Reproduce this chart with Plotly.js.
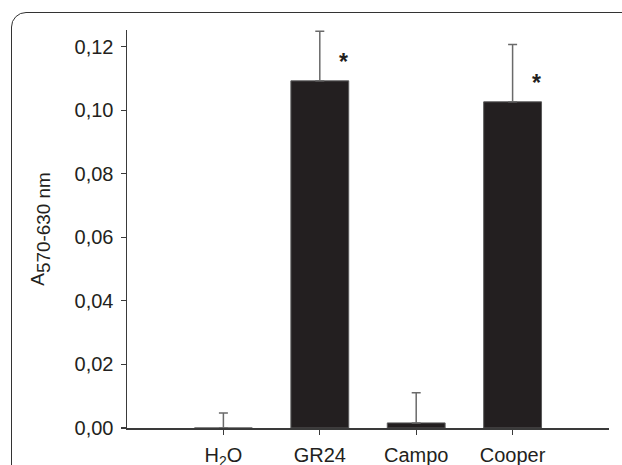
<!DOCTYPE html>
<html>
<head>
<meta charset="utf-8">
<script src="https://cdn.plot.ly/plotly-3.0.1.min.js"></script>
<style>
  html, body { margin:0; padding:0; background:#ffffff; overflow:hidden; }
  #wrap { position:relative; width:622px; height:465px; overflow:hidden; }
  #frame { position:absolute; left:11px; top:12px; width:660px; height:500px;
           border:1.6px solid #333; border-radius:15px; box-sizing:border-box; }
  #chart { position:absolute; left:0; top:0; width:622px; height:465px; }
</style>
</head>
<body>
<div id="wrap">
  <div id="frame"></div>
  <div id="chart"></div>
</div>
<script>
// Data
const categories = ["H<sub>2</sub>O", "GR24", "Campo", "Cooper"];
const absorbance = [0.0, 0.1092, 0.0016, 0.1026];
const errorUp = [0.0047, 0.0156, 0.0095, 0.0180];
const significant = [false, true, false, true];
const yTicks = [0, 0.02, 0.04, 0.06, 0.08, 0.10, 0.12];
const yTickText = ["0,00", "0,02", "0,04", "0,06", "0,08", "0,10", "0,12"];

const font = "Liberation Sans, Arial, Helvetica, sans-serif";

const trace = {
  type: "bar",
  x: categories,
  y: absorbance,
  marker: { color: "#231f20", line: { color: "#5a5a5a", width: 1 } },
  error_y: {
    type: "data",
    symmetric: false,
    array: errorUp,
    arrayminus: absorbance.map(() => 0),
    color: "#6a6a6a",
    thickness: 1.5,
    width: 4.5
  },
  hoverinfo: "none"
};

const annotations = [];
categories.forEach((c, i) => {
  if (significant[i]) {
    annotations.push({
      x: c, y: absorbance[i], xref: "x", yref: "y",
      text: "<b>*</b>", showarrow: false,
      xshift: 24, yshift: 19, yanchor: "middle",
      font: { family: font, size: 23, color: "#231f20" }
    });
  }
});

const layout = {
  width: 622, height: 465,
  margin: { l: 127, r: 12.5, t: 30, b: 37 },
  paper_bgcolor: "rgba(0,0,0,0)",
  plot_bgcolor: "rgba(0,0,0,0)",
  showlegend: false,
  bargap: 0.4,
  font: { family: font, size: 20, color: "#231f20" },
  xaxis: {
    type: "category",
    range: [-1, 4],
    showline: true, linecolor: "#3a3a3a", linewidth: 1.5,
    ticks: "outside", ticklen: 5, tickwidth: 1.2, tickcolor: "#3a3a3a",
    ticklabelstandoff: 3,
    showgrid: false, zeroline: false,
    tickfont: { family: font, size: 20, color: "#231f20" },
    fixedrange: true
  },
  yaxis: {
    range: [0, 0.1252],
    tickvals: yTicks, ticktext: yTickText,
    showline: true, linecolor: "#3a3a3a", linewidth: 1.5,
    ticks: "outside", ticklen: 5, tickwidth: 1.2, tickcolor: "#3a3a3a",
    ticklabelstandoff: 3,
    showgrid: false, zeroline: false,
    tickfont: { family: font, size: 20, color: "#231f20" },
    title: {
      text: "<span style=\"font-size:19px\">A</span><sub>570-630 nm</sub>",
      font: { family: font, size: 27, color: "#231f20" },
      standoff: 22
    },
    fixedrange: true
  },
  annotations: annotations
};

Plotly.newPlot("chart", [trace], layout, { displayModeBar: false, staticPlot: true });
</script>
</body>
</html>
